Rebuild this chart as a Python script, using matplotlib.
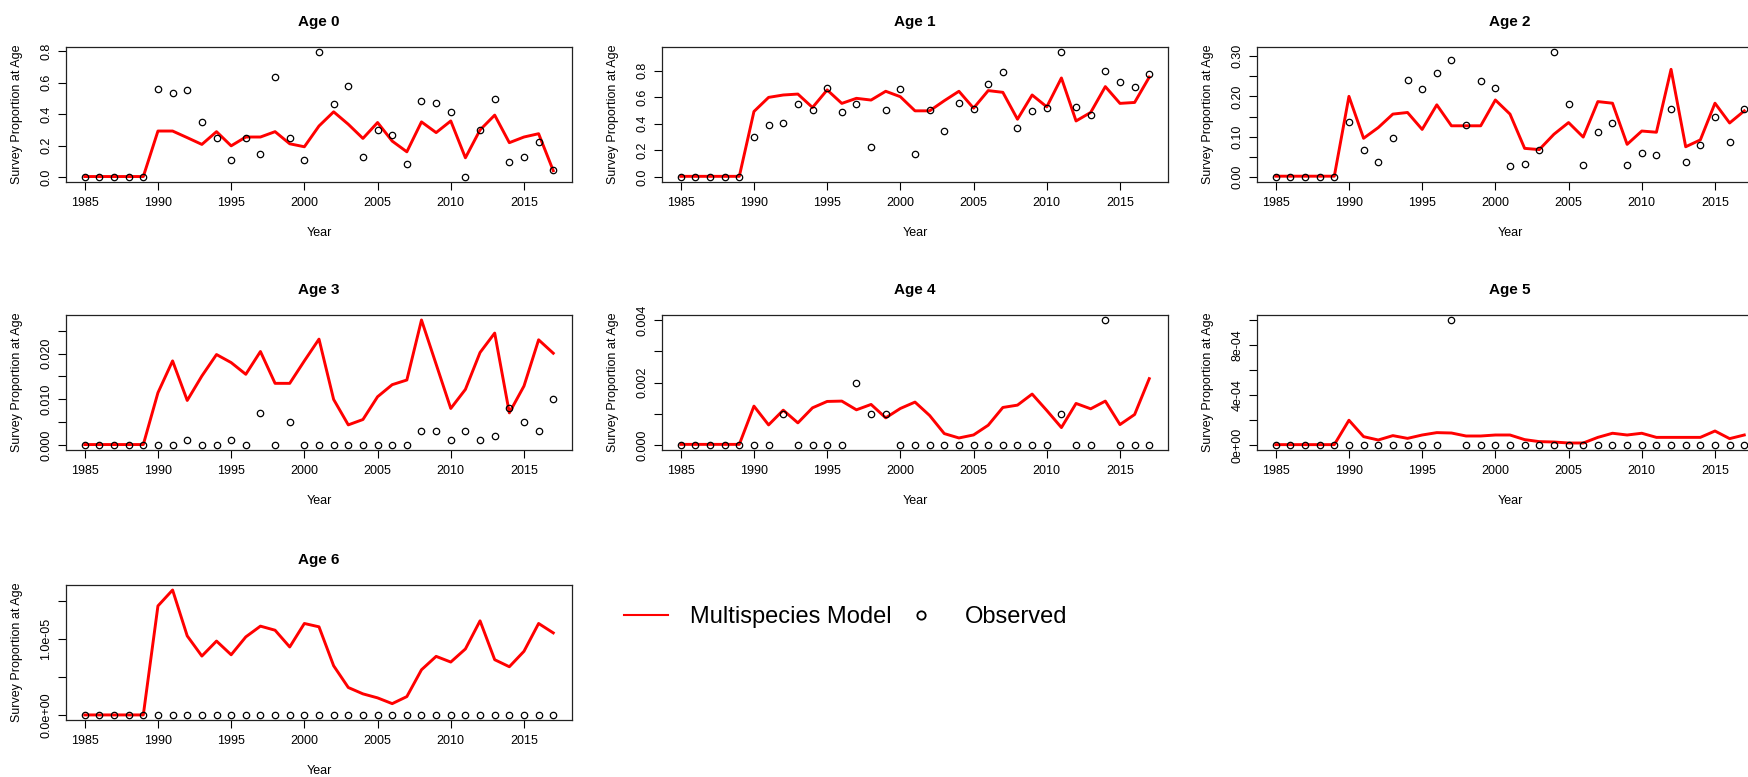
import matplotlib
matplotlib.use("Agg")
import matplotlib.pyplot as plt
from matplotlib.lines import Line2D
import numpy as np

plt.rcParams['font.family'] = ['Liberation Sans', 'DejaVu Sans']

years = list(range(1985, 2018))

model_age0 = [0.003, 0.003, 0.003, 0.003, 0.003, 0.292, 0.292, 0.250, 0.207, 0.288, 0.198, 0.254, 0.254, 0.288,
              0.211, 0.192, 0.324, 0.414, 0.335, 0.245, 0.346, 0.228, 0.160, 0.350, 0.282, 0.356, 0.122,
              0.299, 0.393, 0.218, 0.254, 0.275, 0.040]
obs_age0 = [0, 0, 0, 0, 0, 0.559, 0.535, 0.550, 0.352, 0.245, 0.109, 0.250, 0.145, 0.638, 0.250, 0.109,
            0.794, 0.463, 0.580, 0.130, 0.301, 0.265, 0.085, 0.484, 0.469, 0.412, 0.0, 0.301, 0.493,
            0.094, 0.124, 0.220, 0.043]

model_age1 = [0.005, 0.005, 0.005, 0.005, 0.005, 0.492, 0.598, 0.616, 0.623, 0.522, 0.654, 0.553, 0.591,
              0.578, 0.644, 0.603, 0.497, 0.497, 0.573, 0.644, 0.517, 0.649, 0.636, 0.434, 0.616, 0.527,
              0.744, 0.421, 0.485, 0.679, 0.553, 0.560, 0.750]
obs_age1 = [0, 0, 0, 0, 0, 0.300, 0.389, 0.406, 0.548, 0.502, 0.671, 0.485, 0.548, 0.225, 0.502, 0.661,
            0.172, 0.502, 0.346, 0.555, 0.510, 0.697, 0.792, 0.371, 0.495, 0.520, 0.939, 0.527, 0.467,
            0.800, 0.712, 0.679, 0.775]

model_age2 = [0.002, 0.002, 0.002, 0.002, 0.002, 0.200, 0.096, 0.1225, 0.156, 0.160, 0.118, 0.179, 0.127,
              0.127, 0.127, 0.191, 0.156, 0.071, 0.068, 0.106, 0.135, 0.099, 0.187, 0.183, 0.081, 0.114,
              0.111, 0.267, 0.075, 0.092, 0.183, 0.134, 0.164]
obs_age2 = [0, 0, 0, 0, 0, 0.1375, 0.068, 0.037, 0.097, 0.241, 0.218, 0.258, 0.290, 0.129, 0.238, 0.221,
            0.028, 0.033, 0.0675, 0.310, 0.181, 0.031, 0.112, 0.135, 0.031, 0.060, 0.054, 0.169, 0.037,
            0.079, 0.149, 0.088, 0.169]

model_age3 = [0.0001, 0.0001, 0.0001, 0.0001, 0.0001, 0.01143, 0.01839, 0.00974, 0.01509, 0.01978, 0.01802,
              0.01546, 0.02044, 0.01348, 0.01348, 0.01839, 0.02315, 0.00996, 0.0044, 0.00557, 0.01055,
              0.01319, 0.01421, 0.02733, 0.01766, 0.00799, 0.01216, 0.02022, 0.02447, 0.00703, 0.01289,
              0.0230, 0.02007]
obs_age3 = [0, 0, 0, 0, 0, 0, 0, 0.001, 0, 0, 0.001, 0, 0.007, 0, 0.005, 0, 0, 0, 0, 0, 0, 0, 0,
            0.003, 0.003, 0.001, 0.003, 0.001, 0.002, 0.008, 0.005, 0.003, 0.010]

model_age4 = [0.00002, 0.00002, 0.00002, 0.00002, 0.00002, 0.001244, 0.000643, 0.001115, 0.000708, 0.00119,
              0.001394, 0.001405, 0.001126, 0.001298, 0.000869, 0.001169, 0.001373, 0.000944, 0.000365,
              0.000225, 0.000322, 0.000633, 0.001201, 0.001276, 0.00163, 0.001105, 0.000558, 0.00133,
              0.001158, 0.001405, 0.000654, 0.000976, 0.002123]
obs_age4 = [0, 0, 0, 0, 0, 0, 0, 0.001, 0, 0, 0, 0, 0.002, 0.001, 0.001, 0, 0, 0, 0, 0, 0, 0, 0, 0, 0,
            0, 0.001, 0, 0, 0.004, 0, 0, 0]

model_age5 = [0.000003, 0.000003, 0.000003, 0.000003, 0.000003, 0.000198, 0.000067, 0.00004, 0.000075,
              0.000053, 0.00008, 0.000099, 0.000096, 0.000072, 0.000072, 0.00008, 0.00008, 0.000043,
              0.000027, 0.000024, 0.000016, 0.000016, 0.000061, 0.000094, 0.00008, 0.000094, 0.000061,
              0.000061, 0.000061, 0.000061, 0.000112, 0.000051, 0.00008]
obs_age5 = [0, 0, 0, 0, 0, 0, 0, 0, 0, 0, 0, 0, 0.001, 0, 0, 0, 0, 0, 0, 0, 0, 0, 0, 0, 0, 0, 0, 0, 0,
            0, 0, 0, 0]

model_age6 = [1.0e-8, 1.0e-8, 1.0e-8, 1.0e-8, 1.0e-8, 1.44e-5, 1.65e-5, 1.044e-5, 0.778e-5, 0.976e-5,
              0.795e-5, 1.031e-5, 1.173e-5, 1.119e-5, 0.898e-5, 1.208e-5, 1.164e-5, 0.650e-5, 0.363e-5,
              0.279e-5, 0.226e-5, 0.150e-5, 0.243e-5, 0.597e-5, 0.774e-5, 0.699e-5, 0.872e-5, 1.243e-5,
              0.730e-5, 0.637e-5, 0.841e-5, 1.208e-5, 1.084e-5]
obs_age6 = [0.0] * 33

panel_titles = ["Age 0", "Age 1", "Age 2", "Age 3", "Age 4", "Age 5", "Age 6"]
model_series = [model_age0, model_age1, model_age2, model_age3, model_age4, model_age5, model_age6]
obs_series = [obs_age0, obs_age1, obs_age2, obs_age3, obs_age4, obs_age5, obs_age6]

x_ticks = [1985, 1990, 1995, 2000, 2005, 2010, 2015]
y_ticks = [
    [0.0, 0.2, 0.4, 0.6, 0.8],
    [0.0, 0.2, 0.4, 0.6, 0.8],
    [0.0, 0.05, 0.10, 0.15, 0.20, 0.25, 0.30],
    [0.0, 0.005, 0.010, 0.015, 0.020, 0.025],
    [0.0, 0.001, 0.002, 0.003, 0.004],
    [0.0, 0.0002, 0.0004, 0.0006, 0.0008, 0.0010],
    [0.0, 0.5e-5, 1.0e-5, 1.5e-5],
]
y_labels = [
    ["0.0", "0.2", "0.4", "0.6", "0.8"],
    ["0.0", "0.2", "0.4", "0.6", "0.8"],
    ["0.00", "", "0.10", "", "0.20", "", "0.30"],
    ["0.000", "", "0.010", "", "0.020", ""],
    ["0.000", "", "0.002", "", "0.004"],
    ["0e+00", "", "4e-04", "", "8e-04", ""],
    ["0.0e+00", "", "1.0e-05", ""],
]

W, H = 1749, 777
fig = plt.figure(figsize=(W / 100, H / 100), dpi=100)

col_left = [66, 662, 1257]
box_w = 506
row_top = [47, 315, 585]
box_h = 135

for i in range(7):
    r, c = divmod(i, 3)
    l = col_left[c]
    t = row_top[r]
    ax = fig.add_axes([l / W, 1 - (t + box_h) / H, box_w / W, box_h / H])
    ax.plot(years, model_series[i], color='#ff0000', lw=2.1, solid_joinstyle='round', zorder=2)
    ax.plot(years, obs_series[i], linestyle='none', marker='o', markersize=4.6,
            markerfacecolor='none', markeredgecolor='black', markeredgewidth=0.9, zorder=3)
    allv = np.array(model_series[i] + obs_series[i])
    lo, hi = allv.min(), allv.max()
    d = hi - lo
    ax.set_xlim(years[0] - 0.04 * (years[-1] - years[0]), years[-1] + 0.04 * (years[-1] - years[0]))
    ax.set_ylim(lo - 0.04 * d, hi + 0.04 * d)
    ax.set_xticks(x_ticks)
    ax.set_xticklabels([str(v) for v in x_ticks])
    ax.set_yticks(y_ticks[i])
    ax.set_yticklabels(y_labels[i], rotation=90, va='center')
    ax.tick_params(axis='both', direction='out', length=5.8, width=0.8, labelsize=9, colors='black')
    ax.tick_params(axis='x', pad=5)
    ax.tick_params(axis='y', pad=4)
    for sp in ax.spines.values():
        sp.set_linewidth(0.9)
        sp.set_color('#222222')
    ax.set_title(panel_titles[i], fontsize=11, fontweight='bold', pad=15)
    ax.annotate('Year', xy=(0.5, 0), xycoords='axes fraction', xytext=(0, -51 * 0.72),
                textcoords='offset points', ha='center', va='center', fontsize=9)
    ax.annotate('Survey Proportion at Age', xy=(0, 0.5), xycoords='axes fraction',
                xytext=(-49 * 0.72, 0), textcoords='offset points', ha='center', va='center',
                rotation=90, fontsize=9)

legend_handles = [
    Line2D([], [], color='#ff0000', lw=1.5),
    Line2D([], [], linestyle='none', marker='o', markersize=6, markerfacecolor='none',
           markeredgecolor='black', markeredgewidth=1.3),
]
legend_names = ["Multispecies Model", "Observed"]
fs = 17
fpx = fs / 0.72
fig.legend(legend_handles, legend_names, loc='center left', bbox_to_anchor=(624 / W, 1 - 617 / H),
           ncol=2, frameon=False, fontsize=fs, borderpad=0, borderaxespad=0,
           handlelength=44 / fpx, handletextpad=22 / fpx, columnspacing=7 / fpx)

fig.savefig('out.png', dpi=100)
